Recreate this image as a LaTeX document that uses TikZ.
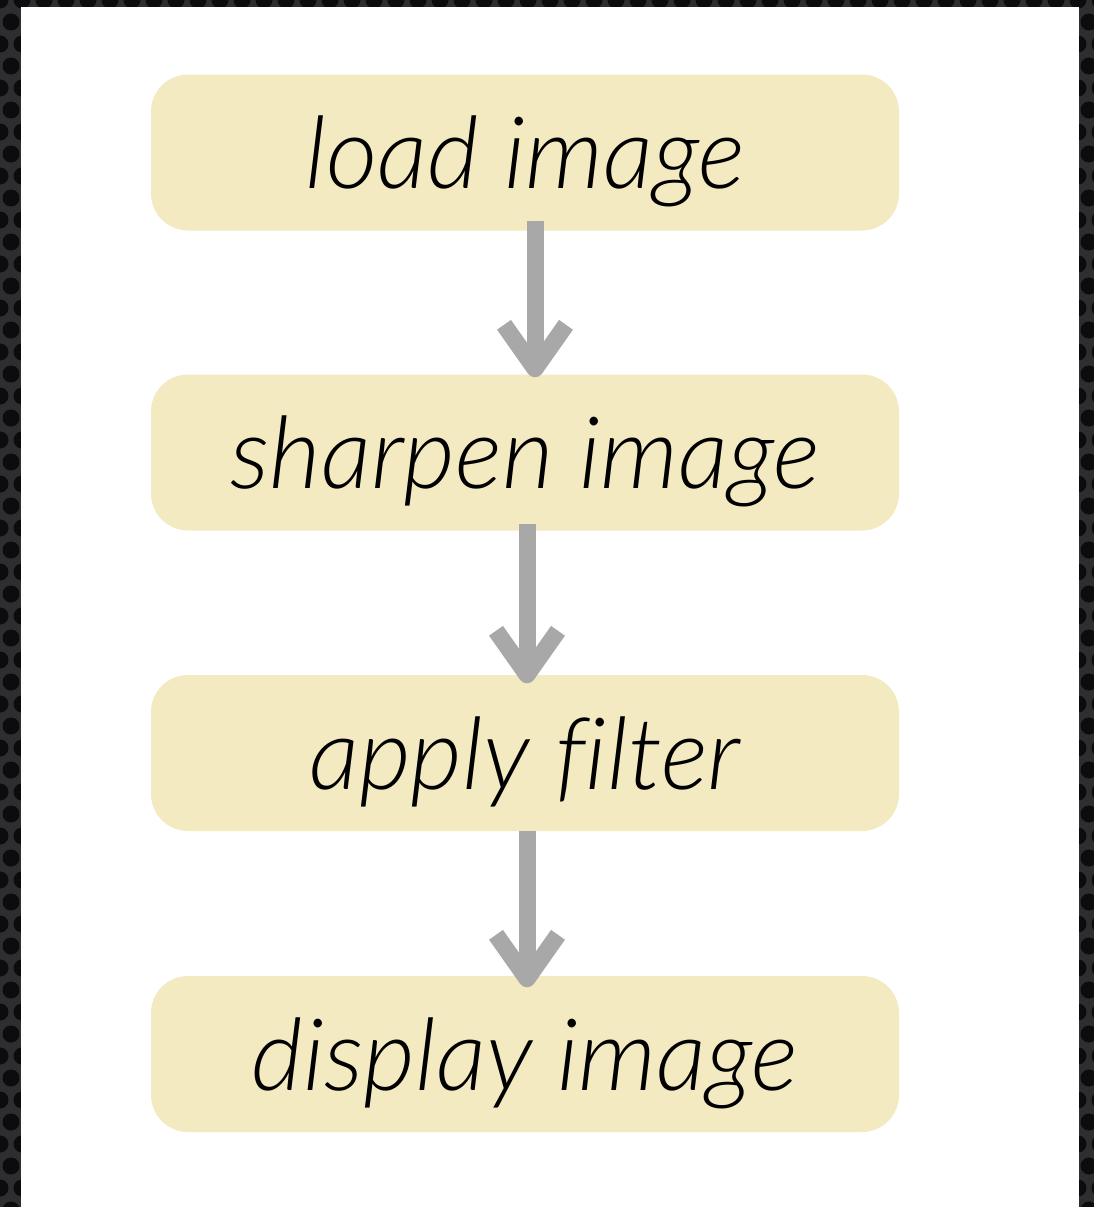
\documentclass[tikz,border=0pt]{standalone}
\usepackage{fontspec}
\newfontfamily\labelfont{Lato Light Italic}[Ligatures=NoCommon]
\usetikzlibrary{arrows.meta}
\definecolor{boxfill}{RGB}{243,234,194}
\definecolor{flowgray}{RGB}{168,168,168}
\definecolor{darkbg}{RGB}{46,46,49}
\definecolor{holes}{RGB}{12,12,14}
\tikzset{
  stepbox/.style={rectangle, rounded corners=37pt, fill=boxfill,
    minimum width=748pt, minimum height=156pt, inner sep=0pt,
    text height=82pt, text depth=10pt,
    font=\labelfont\fontsize{100}{106}\selectfont, text=black},
  flow/.style={draw=flowgray, line width=17pt,
    -{Straight Barb[length=44pt, width=62pt, line cap=butt, line join=round]}}
}
\begin{document}
\begin{tikzpicture}[x=1pt, y=-1pt]
  \useasboundingbox (0,0) rectangle (1094,1207);
  % perforated dark backdrop
  \fill[darkbg] (0,0) rectangle (1094,1207);
  \begin{scope}
    \clip (0,0) rectangle (1094,1207);
    \foreach \r in {0,...,55} {
      \foreach \c in {0,...,50} {
        \pgfmathsetmacro{\xx}{\c*22 + mod(\r,2)*11}
        \fill[holes] (\xx, \r*22) circle (8.5);
      }
    }
  \end{scope}
  % white sheet
  \fill[white] (21,7) rectangle (1079,1207);

  % pipeline steps
  \node[stepbox] (load)    at (525,152.5) {load image};
  \node[stepbox] (sharpen) at (525,452.5) {sharpen image};
  \node[stepbox] (filter)  at (525,753)   {apply filter};
  \node[stepbox] (display) at (525,1054)  {display image};

  % connectors
  \coordinate (a1) at ([xshift=10pt,yshift=10pt]load.south);
  \coordinate (b1) at ([xshift=10pt,yshift=-3pt]sharpen.north);
  \coordinate (a2) at ([xshift=2pt,yshift=6.5pt]sharpen.south);
  \coordinate (b2) at ([xshift=2pt,yshift=-8.5pt]filter.north);
  \coordinate (a3) at ([xshift=2pt]filter.south);
  \coordinate (b3) at ([xshift=2pt,yshift=-11.5pt]display.north);
  \draw[flow] (a1) -- (b1);
  \draw[flow] (a2) -- (b2);
  \draw[flow] (a3) -- (b3);
\end{tikzpicture}
\end{document}
